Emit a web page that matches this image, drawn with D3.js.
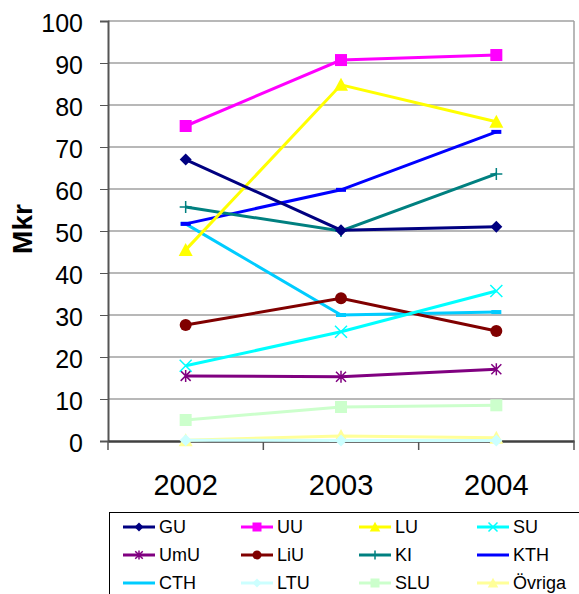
<!DOCTYPE html>
<html><head><meta charset="utf-8">
<script src="https://cdn.jsdelivr.net/npm/d3@7"></script>
<style>body{margin:0;background:#fff}svg{display:block;font-family:"Liberation Sans",Arial,sans-serif}</style>
</head><body><svg id="c" width="579" height="594"></svg>
<script>
const years = ["2002","2003","2004"];
const seriesNames = ["GU","UU","LU","SU","UmU","LiU","KI","KTH","CTH","LTU","SLU","Övriga"];
const GU = [67, 50.2, 51];
const UU = [75, 90.7, 91.9];
const LU = [45.5, 84.8, 76];
const SU = [17.9, 26, 35.7];
const UmU = [15.5, 15.3, 17.1];
const LiU = [27.6, 34, 26.2];
const KI = [55.7, 50, 63.6];
const KTH = [51.7, 59.8, 73.6];
const CTH = [51.7, 30, 30.7];
const LTU = [0.2, 0.1, 0.1];
const SLU = [5, 8.1, 8.5];
const Ovriga = [0.2, 1.2, 0.8];
const yTicks = [0,10,20,30,40,50,60,70,80,90,100];
const colors = ["#000080","#FF00FF","#FFFF00","#00FFFF","#800080","#800000","#008080","#0000FF","#00CCFF","#CCFFFF","#CCFFCC","#FFFF99"];
const markers = ["diamond","square","triangle","x","star","circle","plus","dash","dash","diamond","square","triangle"];
const values = [GU,UU,LU,SU,UmU,LiU,KI,KTH,CTH,LTU,SLU,Ovriga];

const svg = d3.select("#c");
const L=108, R=574, T=21, B=441;
const x = d3.scaleBand().domain(years).range([L,R]);
const y = d3.scaleLinear().domain([0,100]).range([B,T]);

// gridlines
svg.append("g").selectAll("line").data(yTicks.filter(d=>d>0)).join("line")
  .attr("x1",L).attr("x2",R).attr("y1",d=>y(d)).attr("y2",d=>y(d))
  .attr("stroke","#a0a0a0").attr("stroke-width",1.5);
// right plot border
svg.append("line").attr("x1",R).attr("x2",R).attr("y1",T).attr("y2",B)
  .attr("stroke","#a0a0a0").attr("stroke-width",1.5);

// y axis
const ya = svg.append("g").attr("transform",`translate(${L},0)`)
  .call(d3.axisLeft(y).tickValues(yTicks).tickSize(8).tickPadding(17));
ya.select(".domain").attr("stroke","#555").attr("stroke-width",2);
ya.selectAll(".tick line").attr("stroke","#555");
ya.selectAll("text").attr("font-size",25).attr("fill","#000").attr("dy","0.42em");

// x axis
const xa = svg.append("g").attr("transform",`translate(0,${B})`)
  .call(d3.axisBottom(x).tickSize(0).tickPadding(0));
xa.select(".domain").attr("stroke","#404040").attr("stroke-width",2.5);
xa.selectAll("text").attr("font-size",29).attr("fill","#000").attr("dy",null).attr("y",54);
svg.append("g").selectAll("line").data([L, ...years.map(d=>x(d)+x.bandwidth())]).join("line")
  .attr("x1",d=>d).attr("x2",d=>d).attr("y1",B).attr("y2",B+9).attr("stroke","#555").attr("stroke-width",1.5);

svg.append("text").attr("transform",`translate(32,229) rotate(-90)`)
  .attr("text-anchor","middle").attr("font-size",28).attr("font-weight","bold").text("Mkr");

function drawMarker(g, type, cx, cy, color, s){
  s = s||1;
  if(type==="diamond") g.append("path").attr("d",`M${cx},${cy-6*s}L${cx+6*s},${cy}L${cx},${cy+6*s}L${cx-6*s},${cy}Z`).attr("fill",color);
  else if(type==="square") g.append("rect").attr("x",cx-6*s).attr("y",cy-6*s).attr("width",12*s).attr("height",12*s).attr("fill",color);
  else if(type==="triangle") g.append("path").attr("d",`M${cx},${cy-7*s}L${cx+7*s},${cy+6*s}L${cx-7*s},${cy+6*s}Z`).attr("fill",color);
  else if(type==="circle") g.append("circle").attr("cx",cx).attr("cy",cy).attr("r",6*s).attr("fill",color);
  else if(type==="x") g.append("path").attr("d",`M${cx-6*s},${cy-6*s}L${cx+6*s},${cy+6*s}M${cx-6*s},${cy+6*s}L${cx+6*s},${cy-6*s}`).attr("stroke",color).attr("stroke-width",1.5);
  else if(type==="star") g.append("path").attr("d",`M${cx-5*s},${cy-5*s}L${cx+5*s},${cy+5*s}M${cx-5*s},${cy+5*s}L${cx+5*s},${cy-5*s}M${cx},${cy-6*s}L${cx},${cy+6*s}`).attr("stroke",color).attr("stroke-width",1.5);
  else if(type==="plus") g.append("path").attr("d",`M${cx-6*s},${cy}L${cx+6*s},${cy}M${cx},${cy-6*s}L${cx},${cy+6*s}`).attr("stroke",color).attr("stroke-width",1.5);
  else if(type==="dash") g.append("rect").attr("x",cx-5*s).attr("y",cy-2*s).attr("width",10*s).attr("height",4*s).attr("fill",color);
}

const line = d3.line().x((d,i)=>x(years[i])+x.bandwidth()/2).y(d=>y(d));
for(let k=seriesNames.length-1;k>=0;k--){
  const g = svg.append("g");
  g.append("path").attr("d",line(values[k])).attr("fill","none").attr("stroke",colors[k]).attr("stroke-width",3);
  values[k].forEach((v,i)=>drawMarker(g, markers[k], x(years[i])+x.bandwidth()/2, y(v), colors[k]));
}

// legend
const lg = svg.append("g");
lg.append("rect").attr("x",109.5).attr("y",512.5).attr("width",480).attr("height",100).attr("fill","#fff").attr("stroke","#000").attr("stroke-width",1);
seriesNames.forEach((n,k)=>{
  const col=k%4, row=Math.floor(k/4);
  const lx = 123 + col*118, ly = 527 + row*28;
  const g = lg.append("g");
  g.append("line").attr("x1",lx).attr("x2",lx+32).attr("y1",ly).attr("y2",ly).attr("stroke",colors[k]).attr("stroke-width",3);
  if(markers[k]!=="dash") drawMarker(g, markers[k], lx+16, ly, colors[k], 0.75);
  g.append("text").attr("x",lx+36).attr("y",ly).attr("dy","0.36em").attr("font-size",18).text(n);
});
</script></body></html>
